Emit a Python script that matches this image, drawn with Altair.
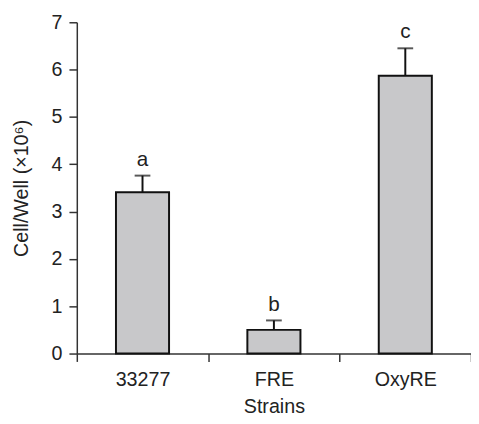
import altair as alt
import pandas as pd

strains = ["33277", "FRE", "OxyRE"]
means = [3.41, 0.50, 5.87]
errors = [0.35, 0.20, 0.58]
letters = ["a", "b", "c"]

df = pd.DataFrame({
    "strain": strains,
    "mean": means,
    "top": [m + e for m, e in zip(means, errors)],
    "letter": letters,
})

FONT = "Liberation Sans"

x = alt.X("strain:N", sort=strains, title="Strains",
          scale=alt.Scale(paddingInner=0, paddingOuter=0),
          axis=alt.Axis(labelAngle=0, tickBand="extent", tickSize=8,
                        labelPadding=8, titlePadding=8))
y_scale = alt.Scale(domain=[0, 7], nice=False)
y_axis = alt.Axis(values=list(range(8)), tickSize=8, labelPadding=7,
                  titlePadding=20, grid=False)

bars = alt.Chart(df).mark_bar(size=54, color="#c8c8ca", stroke="#111",
                              strokeWidth=2).encode(
    x=x,
    y=alt.Y("mean:Q", scale=y_scale, axis=y_axis, title="Cell/Well (×10⁶)"),
)

rule = alt.Chart(df).mark_rule(color="#111", strokeWidth=2).encode(
    x=alt.X("strain:N", sort=strains),
    y="mean:Q",
    y2="top:Q",
)

cap = alt.Chart(df).mark_tick(color="#111", thickness=2, size=16).encode(
    x=alt.X("strain:N", sort=strains),
    y="top:Q",
)

labels = alt.Chart(df).mark_text(font=FONT, fontSize=21, color="#222",
                                 baseline="bottom", dy=-6).encode(
    x=alt.X("strain:N", sort=strains),
    y="top:Q",
    text="letter:N",
)

chart = alt.layer(bars, rule, cap, labels).properties(
    width=401,
    height=337,
    autosize=alt.AutoSizeParams(type="none"),
    padding={"left": 70, "top": 11, "right": 0, "bottom": 60},
).configure_view(
    stroke=None
).configure_axis(
    domainColor="#333",
    tickColor="#333",
    domainWidth=1.5,
    tickWidth=1.5,
    labelFont=FONT,
    titleFont=FONT,
    labelFontSize=20,
    titleFontSize=20,
    labelColor="#222",
    titleColor="#222",
    titleFontWeight="normal",
)

chart.save("out.html", embed_options={"renderer": "svg", "actions": False})
